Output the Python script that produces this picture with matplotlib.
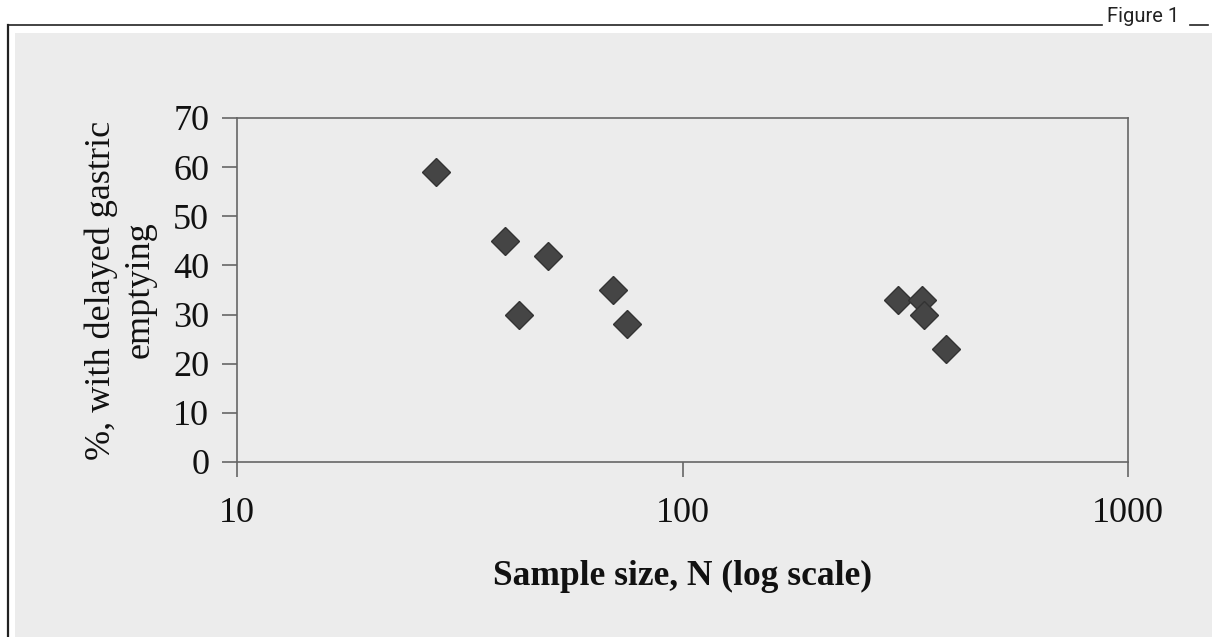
import numpy as np
import matplotlib.pyplot as plt
from matplotlib.patches import Rectangle
from matplotlib.lines import Line2D

# sample size vs % with delayed gastric emptying
sample_n = [28, 40, 43, 50, 70, 75, 305, 345, 349, 391]
pct_delayed = [59, 45, 30, 42, 35, 28, 33, 33, 30, 23]

x_ticks = [10, 100, 1000]
x_ticklabels = ['10', '100', '1000']
y_ticks = [0, 10, 20, 30, 40, 50, 60, 70]

bg = '#ececec'
W, H = 1212, 637

fig = plt.figure(figsize=(W / 100, H / 100), dpi=100)
fig.patch.set_facecolor('white')

# grey panel + frame lines
fig.patches.append(Rectangle((15 / W, 0), 1 - 15 / W, 1 - 33 / H,
                             transform=fig.transFigure, facecolor=bg,
                             edgecolor='none', zorder=-10))
fig.lines.append(Line2D([8 / W, 8 / W], [0, 1 - 25 / H], transform=fig.transFigure,
                        color='#222222', lw=1.6))
fig.lines.append(Line2D([8 / W, 1102 / W], [1 - 25 / H, 1 - 25 / H],
                        transform=fig.transFigure, color='#222222', lw=1.2))
fig.lines.append(Line2D([1190 / W, 1208 / W], [1 - 25 / H, 1 - 25 / H],
                        transform=fig.transFigure, color='#222222', lw=1.2))
fig.text(1143 / W, 1 - 16 / H, 'Figure 1', ha='center', va='center',
         family=['Roboto', 'DejaVu Sans'], fontsize=14.5, fontstretch='condensed',
         color='#222222')

ax = fig.add_axes([237 / W, 1 - 462 / H, (1128 - 237) / W, (462 - 118) / H])
ax.set_facecolor(bg)
ax.set_xscale('log')
ax.set_xlim(10, 1000)
ax.set_ylim(0, 70)

ax.plot(sample_n, pct_delayed, linestyle='none', marker='D', markersize=14,
        markerfacecolor='#454545', markeredgecolor='#333333', markeredgewidth=1,
        zorder=3)

ax.set_xticks(x_ticks)
ax.set_xticklabels(x_ticklabels)
ax.xaxis.set_minor_locator(plt.NullLocator())
ax.set_yticks(y_ticks)

serif = ['Liberation Serif', 'DejaVu Serif']
for lab in ax.get_xticklabels() + ax.get_yticklabels():
    lab.set_family(serif)
    lab.set_fontsize(26)
    lab.set_color('#111111')

ax.tick_params(axis='both', direction='out', length=11, width=1.2, color='#666666')
ax.tick_params(axis='x', pad=14)
ax.tick_params(axis='y', pad=9)
for s in ax.spines.values():
    s.set_color('#666666')
    s.set_linewidth(1.2)

ax.set_xlabel('Sample size, N (log scale)', family=serif, fontsize=25.5,
              fontweight='bold', color='#111111', labelpad=22)
ax.set_ylabel('%, with delayed gastric\nemptying', family=serif, fontsize=26,
              color='#111111', labelpad=12, linespacing=1.2)

fig.savefig('out.png', dpi=100, facecolor=fig.get_facecolor())
